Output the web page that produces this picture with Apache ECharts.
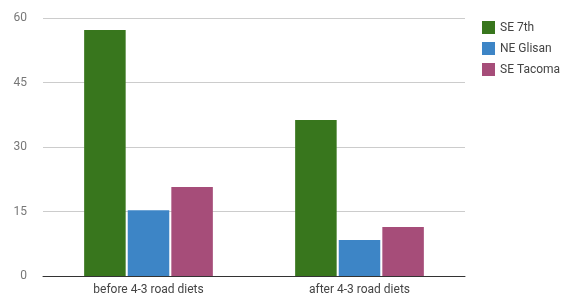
<!DOCTYPE html>
<html>
<head>
<meta charset="utf-8">
<script src="https://cdn.jsdelivr.net/npm/echarts@6/dist/echarts.min.js"></script>
<style>
  html, body { margin: 0; padding: 0; background: #fff; }
  #chart { width: 569px; height: 298px; }
</style>
</head>
<body>
<div id="chart"></div>
<script>
  // data
  const categories = ['before 4-3 road diets', 'after 4-3 road diets'];
  const se7th = [57.2, 36.3];
  const neGlisan = [15.3, 8.4];
  const seTacoma = [20.7, 11.4];
  const yTicks = [0, 15, 30, 45, 60];

  const chart = echarts.init(document.getElementById('chart'));
  const option = {
    animation: false,
    textStyle: { fontFamily: 'Roboto, Arial, sans-serif' },
    grid: { top: 18, left: 43, right: 104, bottom: 22 },
    legend: {
      orient: 'vertical',
      left: 477,
      top: 16,
      itemWidth: 13,
      itemHeight: 13,
      itemGap: 8,
      icon: 'rect',
      textStyle: { color: '#444', fontSize: 12 },
      data: ['SE 7th', 'NE Glisan', 'SE Tacoma']
    },
    xAxis: {
      type: 'category',
      data: categories,
      axisTick: { show: false },
      axisLine: { lineStyle: { color: '#333', width: 1 } },
      axisLabel: { color: '#444', fontSize: 12, margin: 8 }
    },
    yAxis: {
      type: 'value',
      min: yTicks[0],
      max: yTicks[yTicks.length - 1],
      interval: 15,
      axisLine: { show: false },
      axisTick: { show: false },
      splitLine: { lineStyle: { color: '#ccc' } },
      axisLabel: { color: '#777', fontSize: 12, margin: 16 }
    },
    series: [
      { name: 'SE 7th', type: 'bar', data: se7th, itemStyle: { color: '#38761d' }, barGap: '5%', barCategoryGap: '39%' },
      { name: 'NE Glisan', type: 'bar', data: neGlisan, itemStyle: { color: '#3d85c6' } },
      { name: 'SE Tacoma', type: 'bar', data: seTacoma, itemStyle: { color: '#a64d79' } }
    ]
  };
  chart.setOption(option);
</script>
</body>
</html>
